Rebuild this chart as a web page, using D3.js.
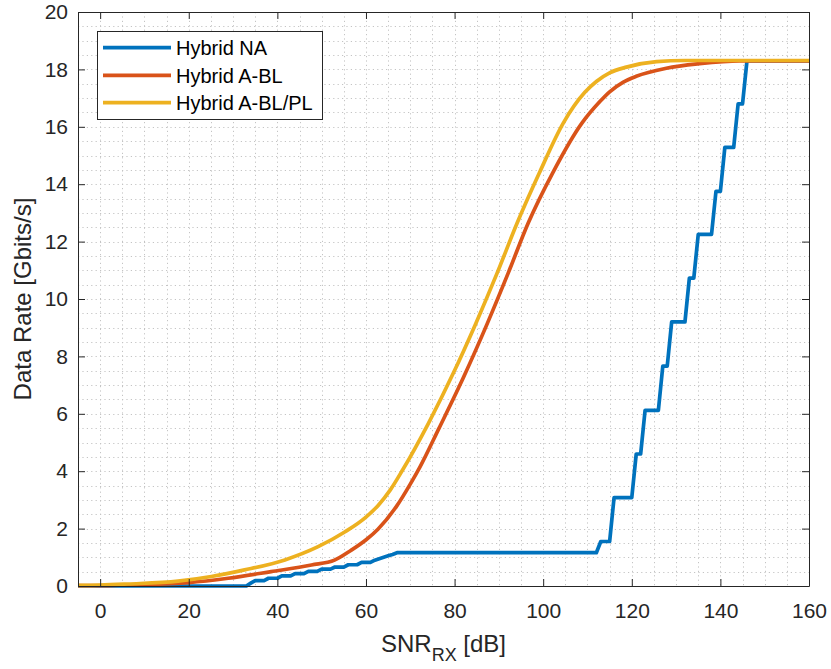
<!DOCTYPE html>
<html>
<head>
<meta charset="utf-8">
<script src="https://cdn.jsdelivr.net/npm/d3@7"></script>
<style>
  html, body { margin: 0; padding: 0; background: #fff; }
  svg { display: block; font-family: "Liberation Sans", Arial, Helvetica, sans-serif; }
</style>
</head>
<body>
<svg id="chart" width="831" height="669"></svg>
<script>
// Data rate vs. received SNR for three hybrid beamforming schemes.
const seriesNames = ["Hybrid NA", "Hybrid A-BL", "Hybrid A-BL/PL"];
const seriesColors = ["#0072BD", "#D95319", "#EDB120"];

// Hybrid NA: quantised rate levels, a staircase
const naSnr = [-5, 33, 34, 35, 37, 38, 40, 41, 43, 44, 46, 47, 49, 50, 52, 53, 55, 56, 58, 59, 61,
  62, 63, 64, 65, 66, 67, 112, 113, 115, 116, 120, 121, 122, 123, 126, 127, 128, 129, 132, 133,
  134, 135, 138, 139, 140, 141, 143, 144, 145, 146, 160];
const naRate = [0, 0, 0.1, 0.19, 0.19, 0.27, 0.27, 0.35, 0.35, 0.43, 0.43, 0.51, 0.51, 0.59, 0.59,
  0.66, 0.66, 0.74, 0.74, 0.82, 0.82, 0.9, 0.95, 1.0, 1.05, 1.1, 1.16, 1.16, 1.55, 1.55, 3.08,
  3.08, 4.6, 4.6, 6.12, 6.12, 7.66, 7.66, 9.2, 9.2, 10.73, 10.73, 12.25, 12.25, 13.75, 13.75,
  15.28, 15.28, 16.8, 16.8, 18.3, 18.3];

// Hybrid A-BL
const ablSnr = [-5, 0, 6.3, 20, 28.9, 38.6, 47.7, 52.9, 56.5, 60.1, 62.7, 67, 70, 72.2, 76.5, 82.1,
  87.4, 92.1, 96.6, 102.1, 108.7, 112.8, 115, 118, 121, 127.8, 135.3, 144.4, 160];
const ablRate = [0.01, 0.01, 0.04, 0.12, 0.27, 0.5, 0.73, 0.9, 1.23, 1.62, 1.98, 2.8, 3.55, 4.15,
  5.5, 7.3, 9.15, 10.9, 12.64, 14.38, 16.12, 16.88, 17.22, 17.55, 17.76, 18.04, 18.2, 18.3, 18.3];

// Hybrid A-BL/PL
const ablplSnr = [-5, 0, 6.3, 17.6, 25.1, 32.6, 41.7, 49.2, 55.2, 60, 62.7, 65.5, 68.3, 74.1, 79.7,
  84.8, 89.6, 94.1, 99.1, 104.5, 109.4, 112.0, 115, 118.8, 125.6, 132, 160];
const ablplRate = [0.02, 0.03, 0.07, 0.17, 0.33, 0.56, 0.91, 1.37, 1.88, 2.4, 2.8, 3.35, 4.05, 5.67,
  7.41, 9.15, 10.9, 12.64, 14.38, 16.12, 17.2, 17.58, 17.88, 18.08, 18.27, 18.31, 18.31];

const xTicks = [0, 20, 40, 60, 80, 100, 120, 140, 160];
const yTicks = [0, 2, 4, 6, 8, 10, 12, 14, 16, 18, 20];

const svg = d3.select("#chart");
const plotL = 78, plotR = 809, plotT = 12, plotB = 586;
const x = d3.scaleLinear().domain([-5, 160]).range([plotL, plotR]);
const y = d3.scaleLinear().domain([0, 20]).range([plotB, plotT]);
const axisColor = "#262626";

// dotted grid (major + minor)
const grid = svg.append("g").attr("stroke", "#c4c4c4").attr("stroke-width", 1)
  .attr("stroke-dasharray", "1.2,3.2");
grid.selectAll("line.gx").data(d3.range(0, 160, 5)).join("line")
  .attr("x1", d => Math.round(x(d)) + 0.5).attr("x2", d => Math.round(x(d)) + 0.5)
  .attr("y1", plotT).attr("y2", plotB);
grid.selectAll("line.gy").data(d3.range(0.5, 20, 0.5)).join("line")
  .attr("y1", d => Math.round(y(d)) + 0.5).attr("y2", d => Math.round(y(d)) + 0.5)
  .attr("x1", plotL).attr("x2", plotR);

// curves
const series = [
  { snr: naSnr, rate: naRate, curve: d3.curveLinear },
  { snr: ablSnr, rate: ablRate, curve: d3.curveMonotoneX },
  { snr: ablplSnr, rate: ablplRate, curve: d3.curveMonotoneX }
];
series.forEach((s, i) => {
  const pts = s.snr.map((v, k) => [v, s.rate[k]]);
  const line = d3.line().x(d => x(d[0])).y(d => y(d[1])).curve(s.curve);
  svg.append("path").datum(pts)
    .attr("d", line)
    .attr("fill", "none")
    .attr("stroke", seriesColors[i])
    .attr("stroke-width", 3.7)
    .attr("stroke-linejoin", "round");
});

// axes with inward ticks on all four sides
function styleAxis(g) {
  g.selectAll("path").attr("stroke", axisColor).attr("stroke-width", 1);
  g.selectAll("line").attr("stroke", axisColor).attr("stroke-width", 1);
  g.selectAll("text").attr("fill", axisColor).attr("font-size", 21)
    .attr("font-family", '"Liberation Sans", Arial, Helvetica, sans-serif');
}
svg.append("g").attr("transform", `translate(0,${plotB})`)
  .call(d3.axisBottom(x).tickValues(xTicks).tickSizeInner(-7).tickSizeOuter(0).tickPadding(17))
  .call(styleAxis);
svg.append("g").attr("transform", `translate(0,${plotT})`)
  .call(d3.axisTop(x).tickValues(xTicks).tickFormat("").tickSizeInner(-7).tickSizeOuter(0))
  .call(styleAxis);
svg.append("g").attr("transform", `translate(${plotL},0)`)
  .call(d3.axisLeft(y).tickValues(yTicks).tickSizeInner(-7).tickSizeOuter(0).tickPadding(10))
  .call(styleAxis);
svg.append("g").attr("transform", `translate(${plotR},0)`)
  .call(d3.axisRight(y).tickValues(yTicks).tickFormat("").tickSizeInner(-7).tickSizeOuter(0))
  .call(styleAxis);

// axis labels
const xl = svg.append("text").attr("x", (plotL + plotR) / 2).attr("y", 652)
  .attr("text-anchor", "middle").attr("font-size", 24).attr("fill", axisColor);
xl.append("tspan").text("SNR");
xl.append("tspan").attr("font-size", 18).attr("dy", 9).text("RX");
xl.append("tspan").attr("dy", -9).text(" [dB]");

svg.append("text")
  .attr("transform", `translate(30.5,${(plotT + plotB) / 2}) rotate(-90)`)
  .attr("text-anchor", "middle").attr("font-size", 24).attr("fill", axisColor)
  .text("Data Rate [Gbits/s]");

// legend
const lg = svg.append("g");
lg.append("rect").attr("x", 97.5).attr("y", 31.5).attr("width", 225).attr("height", 88)
  .attr("fill", "#fff").attr("stroke", axisColor).attr("stroke-width", 1);
const rowY = [47.7, 75.3, 102.7];
seriesNames.forEach((name, i) => {
  lg.append("line").attr("x1", 103).attr("x2", 171).attr("y1", rowY[i]).attr("y2", rowY[i])
    .attr("stroke", seriesColors[i]).attr("stroke-width", 3.7);
  lg.append("text").attr("x", 176).attr("y", rowY[i]).attr("dy", "0.36em")
    .attr("font-size", 20).attr("fill", "#000").text(name);
});
</script>
</body>
</html>
